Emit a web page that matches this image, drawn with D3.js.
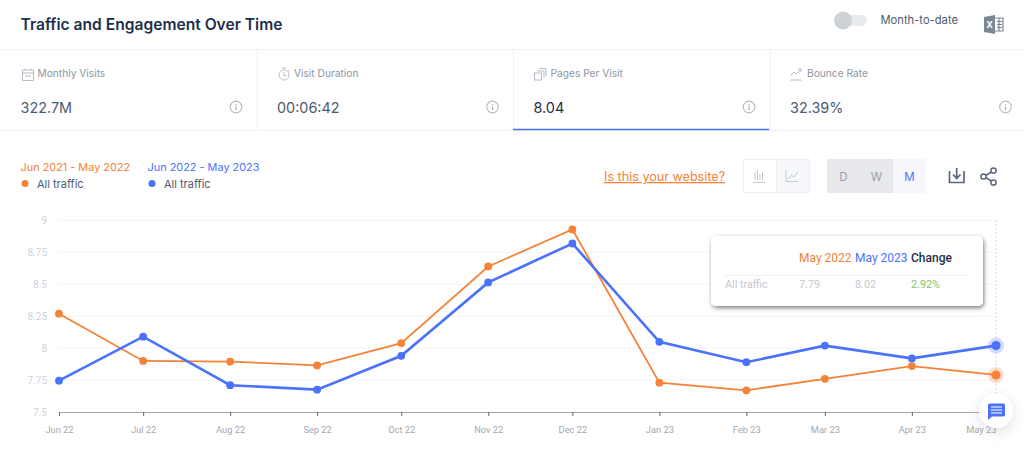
<!DOCTYPE html>
<html>
<head>
<meta charset="utf-8">
<script src="https://cdn.jsdelivr.net/npm/d3@7"></script>
<style>
  html, body { margin: 0; padding: 0; background: #fff; overflow: hidden; }
  svg { display: block; }
  text { font-family: Inter, "Noto Sans", sans-serif; }
  .axis text { font-family: Roboto, sans-serif; }
</style>
</head>
<body>
<svg id="chart"></svg>
<script>
// Months on the x axis
const months = ["2022-06-01","2022-07-01","2022-08-01","2022-09-01","2022-10-01","2022-11-01","2022-12-01","2023-01-01","2023-02-01","2023-03-01","2023-04-01","2023-05-01"];
const monthLabels = ["Jun 22","Jul 22","Aug 22","Sep 22","Oct 22","Nov 22","Dec 22","Jan 23","Feb 23","Mar 23","Apr 23","May 23"];

// Pages per visit
const prevYear = [8.27,7.90,7.895,7.865,8.04,8.64,8.93,7.73,7.67,7.76,7.86,7.79];
const currYear = [7.745,8.09,7.71,7.675,7.94,8.515,8.82,8.05,7.89,8.02,7.92,8.02];

const yTicks = [7.5,7.75,8,8.25,8.5,8.75,9];

// Header tabs
const tabNames = ["Monthly Visits","Visit Duration","Pages Per Visit","Bounce Rate"];
const tabValues = ["322.7M","00:06:42","8.04","32.39%"];

// Legend and tooltip text
const rangeLabels = ["Jun 2021 - May 2022","Jun 2022 - May 2023"];
const tooltipHead = ["May 2022","May 2023","Change"];
const tooltipRow = ["All traffic","7.79","8.02","2.92%"];

const width = 1024, height = 455;
const orange = "#f48238", blue = "#4a72fb", navy = "#1e2f4a", slate = "#4c5a6e", grey = "#8c96a6", line = "#eef0f2";

const svg = d3.select("#chart").attr("width", width).attr("height", height);

const defs = svg.append("defs");
const shadow = defs.append("filter").attr("id", "tipShadow").attr("x", "-10%").attr("y", "-20%").attr("width", "120%").attr("height", "150%");
shadow.append("feDropShadow").attr("dx", 1).attr("dy", 2).attr("stdDeviation", 2).attr("flood-color", "#000").attr("flood-opacity", 0.5);
const soft = defs.append("filter").attr("id", "chatShadow").attr("x", "-60%").attr("y", "-60%").attr("width", "220%").attr("height", "220%");
soft.append("feDropShadow").attr("dx", 0).attr("dy", 4).attr("stdDeviation", 7).attr("flood-color", "#000").attr("flood-opacity", 0.12);

// Title row
svg.append("text").attr("x", 20.5).attr("y", 29.5).attr("font-size", 15.6).attr("font-weight", 600).attr("fill", navy).text("Traffic and Engagement Over Time");

svg.append("rect").attr("x", 835).attr("y", 15).attr("width", 32).attr("height", 11).attr("rx", 5.5).attr("fill", "#e8eaed");
svg.append("circle").attr("cx", 843).attr("cy", 20.5).attr("r", 9).attr("fill", "#cdd2d7");
svg.append("text").attr("x", 880.5).attr("y", 23.5).attr("font-size", 11.2).attr("fill", slate).text("Month-to-date");

// Excel icon
const xl = svg.append("g").attr("transform", "translate(984,15)");
xl.append("path").attr("d", "M0 2L11 0V19L0 17Z").attr("fill", "#7b8794");
xl.append("text").attr("x", 5.5).attr("y", 13).attr("text-anchor", "middle").attr("font-size", 9).attr("font-weight", 700).attr("fill", "#fff").text("X");
xl.append("path").attr("d", "M11 3H19V16H11M13 6.5H18M13 9.5H18M13 12.5H18M15 3V16").attr("fill", "none").attr("stroke", "#7b8794").attr("stroke-width", 1.2);

// Tab strip
svg.append("line").attr("x1", 0).attr("x2", width).attr("y1", 49.5).attr("y2", 49.5).attr("stroke", line);
svg.append("line").attr("x1", 0).attr("x2", width).attr("y1", 130.5).attr("y2", 130.5).attr("stroke", line);

const tabX = d3.scaleBand().domain(d3.range(4)).range([0, 1026]);
const tabs = svg.selectAll("g.tab").data(tabNames).join("g").attr("class", "tab")
  .attr("transform", (d, i) => `translate(${tabX(i)},0)`);

tabs.filter((d, i) => i > 0).append("line").attr("x1", 0.5).attr("x2", 0.5).attr("y1", 50).attr("y2", 130).attr("stroke", line);
tabs.append("text").attr("x", 37.5).attr("y", 77).attr("font-size", 10.2).attr("fill", grey).text(d => d);
tabs.append("text").attr("x", 20.5).attr("y", 112.5).attr("font-size", 14.4).attr("fill", (d, i) => i === 2 ? navy : slate).text((d, i) => tabValues[i]);

// info icons
const info = tabs.append("g").attr("transform", "translate(236,107)");
info.append("circle").attr("r", 5.8).attr("fill", "none").attr("stroke", "#b9bcc0").attr("stroke-width", 1.2);
info.append("path").attr("d", "M0 -3V-2M0 -0.8V3").attr("stroke", "#a5a9ae").attr("stroke-width", 1.2);

svg.append("line").attr("x1", 513).attr("x2", 769).attr("y1", 129.5).attr("y2", 129.5).attr("stroke", blue).attr("stroke-width", 1.5);

// Tab icons
const iconStroke = { fill: "none", stroke: "#b4bcc8", "stroke-width": 1 };
function icon(x, y, d) {
  const p = svg.append("path").attr("transform", `translate(${x},${y})`).attr("d", d);
  Object.entries(iconStroke).forEach(([k, v]) => p.attr(k, v));
}
icon(22, 68, "M0.5 2H11.5V12.5H0.5ZM0.5 5H11.5M3 0.5V2M9 0.5V2M3 8H9");
icon(278, 67, "M6 3A5 5 0 1 0 6.01 3M6 5V8.5H8.5M4 1H8M10 3L11.5 4.5");
icon(534, 68, "M0.5 5H7.5V12H0.5ZM3 3H10V10M5 0.5H12V8");
icon(790, 68, "M0.5 8L4 4L6 6L11 1M8 1H11V4M0.5 12H11.5");

// Legend
const legendX = [20.5, 147.5];
rangeLabels.forEach((t, i) => {
  const c = i === 0 ? orange : blue;
  svg.append("text").attr("x", legendX[i]).attr("y", 171).attr("font-size", 10.9).attr("fill", c).text(t);
  svg.append("circle").attr("cx", legendX[i] + 4.5).attr("cy", 183.5).attr("r", 3.5).attr("fill", c);
  svg.append("text").attr("x", legendX[i] + 16.5).attr("y", 188).attr("font-size", 11).attr("fill", slate).text("All traffic");
});

// Toolbar
svg.append("text").attr("x", 604).attr("y", 181).attr("font-size", 12.6).attr("fill", orange).attr("text-decoration", "underline").text("Is this your website?");

svg.append("rect").attr("x", 743.5).attr("y", 159.5).attr("width", 66).attr("height", 33).attr("fill", "#fff").attr("stroke", line);
svg.append("rect").attr("x", 776.5).attr("y", 159.5).attr("width", 33).attr("height", 33).attr("fill", "#f6f8fc").attr("stroke", line);
svg.append("path").attr("d", "M753 182.5H765M755 180V172M757.5 180V170M760 180V174M762.5 180V172").attr("fill", "none").attr("stroke", "#c3c8d0");
svg.append("path").attr("d", "M786 170V181.5H798M788 179L791.5 175L794 177L798 172").attr("fill", "none").attr("stroke", "#c3c8d0");

svg.append("rect").attr("x", 827).attr("y", 159).attr("width", 66).attr("height", 34).attr("fill", "#e6e8eb");
svg.append("rect").attr("x", 893).attr("y", 159).attr("width", 33).attr("height", 34).attr("fill", "#f5f7fc");
["D","W","M"].forEach((t, i) => {
  svg.append("text").attr("x", 843.5 + i * 33).attr("y", 180.5).attr("text-anchor", "middle").attr("font-size", 11.5).attr("fill", i === 2 ? blue : "#98a0ab").text(t);
});

svg.append("path").attr("d", "M949.5 171V182.5H964V171M956.7 168V178M953 174.5L956.7 178.5L960.5 174.5").attr("fill", "none").attr("stroke", "#5a6679").attr("stroke-width", 1.7);
const share = svg.append("g").attr("fill", "#fff").attr("stroke", "#5a6679").attr("stroke-width", 1.5);
share.append("path").attr("d", "M993 171L984 176.5L993 182");
share.append("circle").attr("cx", 993.5).attr("cy", 170.5).attr("r", 2.6);
share.append("circle").attr("cx", 983.5).attr("cy", 176.5).attr("r", 2.6);
share.append("circle").attr("cx", 993.5).attr("cy", 182.5).attr("r", 2.6);

// Chart
const parse = d3.utcParse("%Y-%m-%d");
const dates = months.map(parse);

const x = d3.scaleUtc().domain(d3.extent(dates)).range([59, 996]);
const y = d3.scaleLinear().domain([7.5, 9]).range([412, 220.5]);

svg.append("g").selectAll("line").data(yTicks.slice(1)).join("line")
  .attr("x1", 59).attr("x2", 996).attr("y1", d => y(d)).attr("y2", d => y(d))
  .attr("stroke", "#f3f4f6");

const yAxis = svg.append("g").attr("class", "axis")
  .attr("transform", "translate(47,0)")
  .call(d3.axisLeft(y).tickValues(yTicks).tickSize(0).tickPadding(0).tickFormat(d3.format("~g")));
yAxis.select(".domain").remove();
yAxis.selectAll("text").attr("font-size", 10).attr("fill", "#cfd3da");

const xAxis = svg.append("g").attr("class", "axis")
  .attr("transform", "translate(0,412)")
  .call(d3.axisBottom(x).tickValues(dates).tickSize(4).tickPadding(10).tickSizeOuter(0).tickFormat((d, i) => monthLabels[i]));
xAxis.select(".domain").attr("stroke", "#a9a9a9").attr("stroke-width", 1.2);
xAxis.selectAll(".tick line").attr("stroke", "#666");
xAxis.selectAll("text").attr("font-size", 9.3).attr("fill", "#a5a8ad");
// last label stays inside the plot
xAxis.selectAll(".tick text").filter((d, i) => i === months.length - 1).attr("text-anchor", "end");

// Crosshair on the last month
svg.append("line").attr("x1", x(dates[11])).attr("x2", x(dates[11])).attr("y1", 220).attr("y2", 412)
  .attr("stroke", "#d8dadd").attr("stroke-dasharray", "2,2");

const pathFor = d3.line().x((d, i) => x(dates[i])).y(d => y(d));

svg.append("path").attr("d", pathFor(prevYear)).attr("fill", "none").attr("stroke", orange).attr("stroke-width", 1.8);
svg.append("path").attr("d", pathFor(currYear)).attr("fill", "none").attr("stroke", blue).attr("stroke-width", 2.6);

[[prevYear, orange], [currYear, blue]].forEach(([vals, c]) => {
  svg.append("circle").attr("cx", x(dates[11])).attr("cy", y(vals[11])).attr("r", 8).attr("fill", c).attr("opacity", 0.25);
  svg.append("g").selectAll("circle").data(vals).join("circle")
    .attr("cx", (d, i) => x(dates[i])).attr("cy", d => y(d))
    .attr("r", (d, i) => i === 11 ? 4.6 : 3.9).attr("fill", c);
});

// Tooltip
const tip = svg.append("g").attr("transform", "translate(711,236)");
tip.append("rect").attr("width", 272).attr("height", 70).attr("rx", 5).attr("fill", "#fff").attr("filter", "url(#tipShadow)");
const headX = [88, 144, 200];
const headC = [orange, blue, navy];
tooltipHead.forEach((t, i) => {
  tip.append("text").attr("x", headX[i]).attr("y", 26).attr("font-size", 12)
    .attr("font-weight", i === 2 ? 500 : 400).attr("fill", headC[i]).style("font-family", "Roboto").text(t);
});
tip.append("line").attr("x1", 14).attr("x2", 256).attr("y1", 39.5).attr("y2", 39.5).attr("stroke", "#eceef0");
const rowX = [14, 88, 144, 200];
tooltipRow.forEach((t, i) => {
  tip.append("text").attr("x", rowX[i]).attr("y", 52).attr("font-size", 10.8)
    .attr("fill", i === 3 ? "#7cc66c" : "#c5c8ce").style("font-family", "Roboto").text(t);
});

// Chat button
svg.append("circle").attr("cx", 996).attr("cy", 411).attr("r", 17).attr("fill", "#fff").attr("filter", "url(#chatShadow)");
svg.append("path").attr("d", "M989.5 403.5H1003.5Q1005 403.5 1005 405V415Q1005 416.5 1003.5 416.5H992L988 420V405Q988 403.5 989.5 403.5Z").attr("fill", blue);
svg.append("path").attr("d", "M991 407H1002M991 410H1002M991 413H1002").attr("stroke", "#fff").attr("stroke-width", 1.2);
</script>
</body>
</html>
